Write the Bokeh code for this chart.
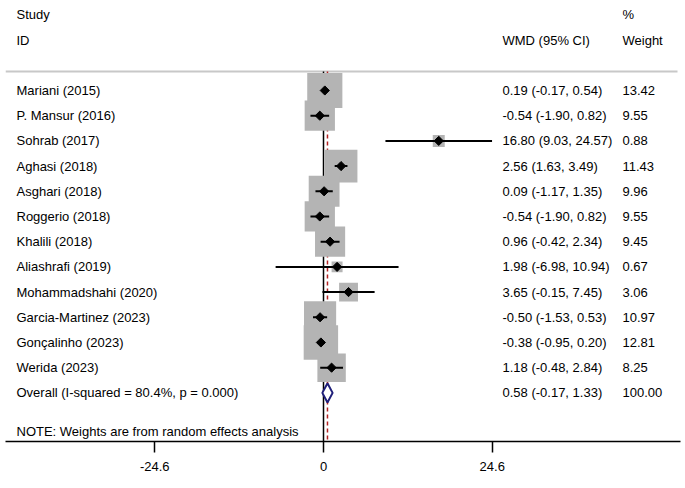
import math
from bokeh.plotting import figure
from bokeh.models import Range1d, FixedTicker, ColumnDataSource, Span
from bokeh.core.properties import value
from bokeh.embed import file_html
from bokeh.resources import INLINE

studies = ["Mariani (2015)", "P. Mansur (2016)", "Sohrab (2017)", "Aghasi (2018)",
           "Asghari (2018)", "Roggerio (2018)", "Khalili (2018)", "Aliashrafi (2019)",
           "Mohammadshahi (2020)", "Garcia-Martinez (2023)", "Gonçalinho (2023)", "Werida (2023)"]
est = [0.19, -0.54, 16.80, 2.56, 0.09, -0.54, 0.96, 1.98, 3.65, -0.50, -0.38, 1.18]
lo = [-0.17, -1.90, 9.03, 1.63, -1.17, -1.90, -0.42, -6.98, -0.15, -1.53, -0.95, -0.48]
hi = [0.54, 0.82, 24.57, 3.49, 1.35, 0.82, 2.34, 10.94, 7.45, 0.53, 0.20, 2.84]
weights = [13.42, 9.55, 0.88, 11.43, 9.96, 9.55, 9.45, 0.67, 3.06, 10.97, 12.81, 8.25]
overall_label = "Overall  (I-squared = 80.4%, p = 0.000)"
overall_est, overall_lo, overall_hi, overall_w = 0.58, -0.17, 1.33, 100.00
tick_values = [-24.6, 0, 24.6]
tick_labels = ["-24.6", "0", "24.6"]
note = "NOTE: Weights are from random effects analysis"

FONT = value("Liberation Sans")
FS = "13px"
W, H = 685, 488
L, R = 5, 680          # frame left/right in page pixels
ZERO, SCALE = 323, 6.86
Y_BOTTOM = 14.93

rows = list(range(1, len(studies) + 1))
overall_row = len(studies) + 1

p = figure(width=W, height=H, output_backend="svg", toolbar_location=None,
           x_range=Range1d((L - ZERO) / SCALE, (R - ZERO) / SCALE),
           y_range=Range1d(Y_BOTTOM, 1 - 90 / 25.2), y_axis_location=None,
           min_border_left=L, min_border_right=W - R, min_border_top=0,
           min_border_bottom=47)
p.extra_x_ranges = {"px": Range1d(L, R)}
p.outline_line_color = None
p.xgrid.visible = False
p.ygrid.visible = False
p.background_fill_color = "white"
p.border_fill_color = "white"

# header separator
p.segment(x0=[5], y0=[0.25], x1=[677], y1=[0.25], x_range_name="px",
          line_color="#c8c8c8", line_width=2)

# reference lines
p.segment(x0=[0], y0=[0.25], x1=[0], y1=[Y_BOTTOM], line_color="black", line_width=1.5)
p.segment(x0=[overall_est], y0=[0.25], x1=[overall_est], y1=[Y_BOTTOM],
          line_color="#b22222", line_width=1.5, line_dash="4 3")

side = [4 + 8.5 * math.sqrt(w) for w in weights]
src = ColumnDataSource(dict(est=est, lo=lo, hi=hi, row=rows, side=side, w=weights,
                            study=studies,
                            ci=[f"{e:.2f} ({l:.2f}, {h:.2f})" for e, l, h in zip(est, lo, hi)],
                            wt=[f"{w:.2f}" for w in weights]))

p.scatter(x="est", y="row", size="side", marker="square", source=src,
          fill_color="#b4b4b4", line_color=None)
p.segment(x0="lo", y0="row", x1="hi", y1="row", source=src, line_color="black", line_width=2)
p.scatter(x="est", y="row", size=6.5, marker="square", angle=math.pi / 4, source=src,
          fill_color="black", line_color="black")

# overall diamond
p.patch(x=[overall_lo, overall_est, overall_hi, overall_est],
        y=[overall_row, overall_row - 0.38, overall_row, overall_row + 0.38],
        fill_color="white", line_color="#1f1f7a", line_width=2)

tx = dict(x_range_name="px", text_baseline="middle", text_font=FONT, text_font_size=FS,
          text_color="black")
p.text(x=16, y="row", text="study", source=src, **tx)
p.text(x=502, y="row", text="ci", source=src, **tx)
p.text(x=622, y="row", text="wt", source=src, **tx)
p.text(x=[16, 16, 502, 622, 622, 16, 502, 622, 16],
       y=[-2, -1, -1, -2, -1, overall_row, overall_row, overall_row, 14.53],
       text=["Study", "ID", "WMD (95% CI)", "%", "Weight", overall_label,
             f"{overall_est:.2f} ({overall_lo:.2f}, {overall_hi:.2f})", f"{overall_w:.2f}", note],
       **tx)

ax = p.xaxis[0]
ax.ticker = FixedTicker(ticks=tick_values)
ax.major_label_overrides = {v: s for v, s in zip(tick_values, tick_labels)}
ax.axis_line_color = "black"
ax.axis_line_width = 1.5
ax.major_tick_line_color = "black"
ax.major_tick_line_width = 1.5
ax.major_tick_out = 11
ax.major_tick_in = 0
ax.minor_tick_line_color = None
ax.major_label_standoff = 9
ax.major_label_text_font = "Liberation Sans"
ax.major_label_text_font_size = FS
ax.major_label_text_color = "black"

open("out.html", "w").write(file_html(p, INLINE))
